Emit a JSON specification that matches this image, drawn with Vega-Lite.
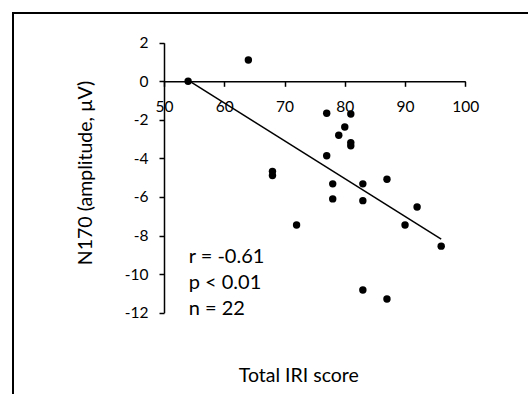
{
  "$schema": "https://vega.github.io/schema/vega-lite/v6.json",
  "autosize": {"type": "none"},
  "padding": {"left": 13, "top": 13, "right": 0, "bottom": 0},
  "width": 520,
  "height": 400,
  "background": "white",
  "config": {
    "view": {"stroke": "black", "strokeWidth": 2},
    "font": "Lato",
    "axis": {
      "grid": false,
      "domainColor": "black",
      "domainWidth": 1.5,
      "tickColor": "black",
      "tickWidth": 1.5,
      "tickSize": 5,
      "labelColor": "black",
      "labelFont": "Lato",
      "labelFontSize": 15.5,
      "titleFont": "Lato",
      "titleFontSize": 19.5,
      "titleFontWeight": "normal",
      "titleColor": "black",
      "labelOverlap": false,
      "labelFlush": false
    }
  },
  "datasets": {
    "points": [
      {"x": 54, "y": 0.0},
      {"x": 64, "y": 1.10},
      {"x": 68, "y": -4.67},
      {"x": 68, "y": -4.89},
      {"x": 72, "y": -7.45},
      {"x": 77, "y": -1.66},
      {"x": 77, "y": -3.86},
      {"x": 78, "y": -5.32},
      {"x": 78, "y": -6.10},
      {"x": 79, "y": -2.80},
      {"x": 80, "y": -2.37},
      {"x": 81, "y": -1.70},
      {"x": 81, "y": -3.18},
      {"x": 81, "y": -3.34},
      {"x": 83, "y": -5.32},
      {"x": 83, "y": -6.19},
      {"x": 83, "y": -10.82},
      {"x": 87, "y": -5.08},
      {"x": 87, "y": -11.29},
      {"x": 90, "y": -7.45},
      {"x": 92, "y": -6.52},
      {"x": 96, "y": -8.55}
    ],
    "trend": [
      {"x": 54.3, "y": 0.0},
      {"x": 96, "y": -8.19}
    ],
    "notes": [
      {"x": 54.1, "y": -9.09, "label": "r = -0.61"},
      {"x": 54.1, "y": -10.47, "label": "p < 0.01"},
      {"x": 54.1, "y": -11.82, "label": "n = 22"}
    ]
  },
  "encoding": {
    "x": {
      "field": "x",
      "type": "quantitative",
      "scale": {"domain": [50, 100], "range": [151, 452.3], "nice": false, "zero": false},
      "axis": {
        "orient": "bottom",
        "offset": -331.7,
        "values": [50, 60, 70, 80, 90, 100],
        "labelExpr": "toString(datum.value)",
        "labelPadding": 13,
        "title": "Total IRI score",
        "titleX": 285.3,
        "titleY": 293.7,
        "titleBaseline": "middle",
        "titleAlign": "center"
      }
    },
    "y": {
      "field": "y",
      "type": "quantitative",
      "scale": {"domain": [-12, 2], "range": [299.7, 29.7], "nice": false, "zero": false},
      "axis": {
        "orient": "left",
        "offset": -151,
        "values": [-12, -10, -8, -6, -4, -2, 0, 2],
        "labelExpr": "toString(datum.value)",
        "labelPadding": 11,
        "title": "N170 (amplitude, µV)",
        "titleAngle": -90,
        "titleX": -79,
        "titleY": 159.5,
        "titleBaseline": "middle",
        "titleAlign": "center"
      }
    }
  },
  "layer": [
    {
      "data": {"name": "trend"},
      "mark": {"type": "line", "color": "black", "strokeWidth": 1.5}
    },
    {
      "data": {"name": "points"},
      "mark": {"type": "point", "filled": true, "color": "black", "opacity": 1, "size": 55}
    },
    {
      "data": {"name": "notes"},
      "mark": {"type": "text", "align": "left", "baseline": "middle", "fontSize": 20, "font": "Lato", "color": "black"},
      "encoding": {"text": {"field": "label"}}
    }
  ]
}
